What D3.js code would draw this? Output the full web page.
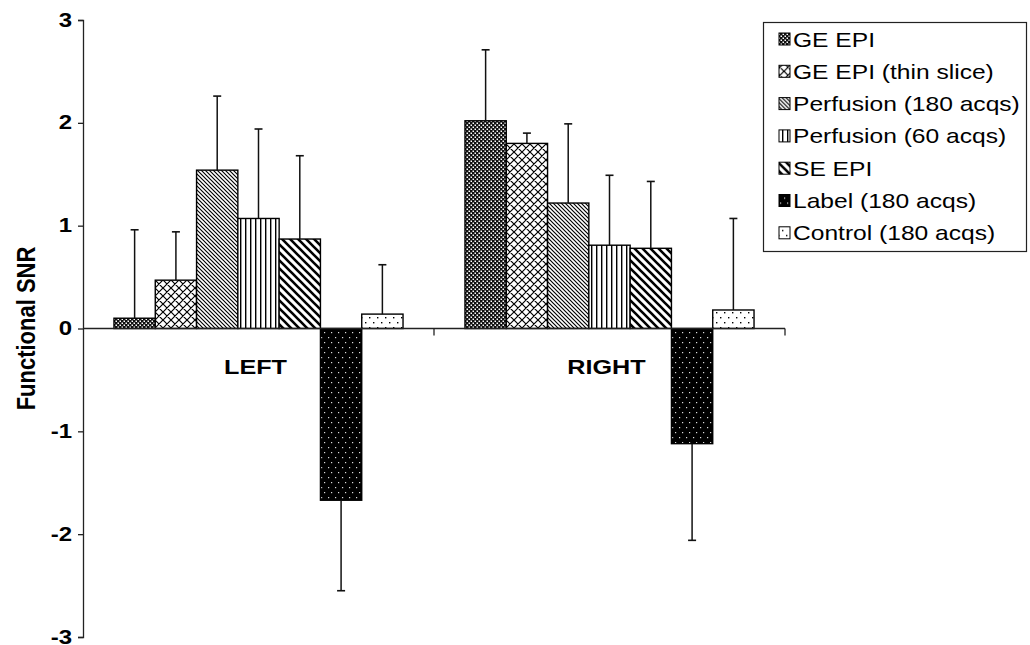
<!DOCTYPE html>
<html>
<head>
<meta charset="utf-8">
<script src="https://cdn.jsdelivr.net/npm/d3@7/dist/d3.min.js"></script>
<style>
  html, body { margin: 0; padding: 0; background: #fff; }
  text { font-family: "Liberation Sans", Arial, sans-serif; fill: #000; }
</style>
</head>
<body>
<svg id="chart" width="1030" height="645"></svg>
<script>
const categories = ["LEFT", "RIGHT"];
const series = ["GE EPI", "GE EPI (thin slice)", "Perfusion (180 acqs)", "Perfusion (60 acqs)", "SE EPI", "Label (180 acqs)", "Control (180 acqs)"];
const leftValues  = [0.10, 0.47, 1.54, 1.07, 0.87, -1.67, 0.14];
const leftErrors  = [0.86, 0.47, 0.72, 0.87, 0.81, 0.88, 0.48];
const rightValues = [2.02, 1.80, 1.22, 0.81, 0.78, -1.12, 0.18];
const rightErrors = [0.69, 0.10, 0.77, 0.68, 0.65, 0.94, 0.89];
const yTicks = [-3, -2, -1, 0, 1, 2, 3];
const patternIds = ["pGE", "pThin", "pPerf180", "pPerf60", "pSE", "pLabel", "pControl"];

const table = [];
categories.forEach((c, ci) => {
  const vals = ci === 0 ? leftValues : rightValues;
  const errs = ci === 0 ? leftErrors : rightErrors;
  series.forEach((s, si) => table.push({ cat: c, series: s, si, value: vals[si], err: errs[si] }));
});

const SX = 1.2; // horizontal stretch of the original figure's lettering
const svg = d3.select("#chart");

// ---- patterns ----
const defs = svg.append("defs");
function pat(id, w, h) {
  return defs.append("pattern").attr("id", id).attr("patternUnits", "userSpaceOnUse")
    .attr("width", w).attr("height", h);
}
// GE EPI: dense dark check
let p = pat("pGE", 4, 4);
p.append("rect").attr("width", 4).attr("height", 4).attr("fill", "#111");
p.append("rect").attr("x", 0.5).attr("y", 0.5).attr("width", 1.5).attr("height", 1.5).attr("fill", "#fff");
p.append("rect").attr("x", 2.5).attr("y", 2.5).attr("width", 1.5).attr("height", 1.5).attr("fill", "#fff");
// thin slice: diagonal crosshatch
p = pat("pThin", 8, 8);
p.append("rect").attr("width", 8).attr("height", 8).attr("fill", "#fff");
p.append("path").attr("d", "M0,0L8,8M8,0L0,8M-1,7L1,9M7,-1L9,1M-1,1L1,-1M7,9L9,7").attr("stroke", "#000").attr("stroke-width", 1.2);
// perfusion 180: fine "\" lines
p = pat("pPerf180", 4, 4);
p.append("rect").attr("width", 4).attr("height", 4).attr("fill", "#fff");
p.append("path").attr("d", "M0,0L4,4M-1,3L1,5M3,-1L5,1").attr("stroke", "#000").attr("stroke-width", 1.15);
// perfusion 60: vertical lines
p = pat("pPerf60", 5, 5);
p.append("rect").attr("width", 5).attr("height", 5).attr("fill", "#fff");
p.append("rect").attr("x", 2).attr("width", 1.4).attr("height", 5).attr("fill", "#000");
// SE EPI: thick "\" lines
p = pat("pSE", 8, 8);
p.append("rect").attr("width", 8).attr("height", 8).attr("fill", "#fff");
p.append("path").attr("d", "M0,0L8,8M-2,6L2,10M6,-2L10,2").attr("stroke", "#000").attr("stroke-width", 2.6);
// Label: black with white dots
p = pat("pLabel", 7, 10);
p.append("rect").attr("width", 7).attr("height", 10).attr("fill", "#000");
p.append("rect").attr("x", 3).attr("y", 2).attr("width", 1.2).attr("height", 1.2).attr("fill", "#ddd");
p.append("rect").attr("x", 0).attr("y", 7).attr("width", 1.2).attr("height", 1.2).attr("fill", "#ddd");
// Control: white with black dots
p = pat("pControl", 8, 10);
p.append("rect").attr("width", 8).attr("height", 10).attr("fill", "#fff");
p.append("rect").attr("x", 2).attr("y", 2).attr("width", 1.4).attr("height", 1.4).attr("fill", "#000");
p.append("rect").attr("x", 6).attr("y", 7).attr("width", 1.4).attr("height", 1.4).attr("fill", "#000");

// ---- scales ----
const x0 = d3.scaleBand().domain(categories).range([83, 785]).paddingInner(0).paddingOuter(0);
const x1 = d3.scaleBand().domain(series).range([0, x0.bandwidth()]).paddingInner(0).paddingOuter(0.75);
const y = d3.scaleLinear().domain([-3, 3]).range([637, 20]);

// ---- y axis ----
const yAxis = svg.append("g").attr("transform", "translate(83,0)")
  .call(d3.axisLeft(y).tickValues(yTicks).tickSize(5).tickPadding(10).tickFormat(d => String(d)));
yAxis.attr("font-size", null).attr("font-family", null);
yAxis.select(".domain").attr("stroke", "#222").attr("stroke-width", 1.3);
yAxis.selectAll(".tick line").attr("stroke", "#222").attr("stroke-width", 1.3);
yAxis.selectAll(".tick text")
  .style("font-family", "'Liberation Sans', Arial, sans-serif")
  .style("font-size", "20px").style("font-weight", "bold").attr("fill", "#000")
  .attr("dy", "0.3em")
  .attr("x", -11 / SX).attr("transform", `scale(${SX},1)`);

// y title
svg.append("text")
  .attr("transform", `translate(35,${y(0)}) rotate(-90) scale(1,${SX})`)
  .attr("text-anchor", "middle").attr("font-size", 22).attr("font-weight", "bold")
  .text("Functional SNR");

// ---- bars ----
const groups = svg.append("g").selectAll("g").data(categories).join("g")
  .attr("transform", d => `translate(${x0(d)},0)`);

groups.selectAll("rect").data(c => table.filter(t => t.cat === c)).join("rect")
  .attr("x", d => x1(d.series))
  .attr("width", x1.bandwidth())
  .attr("y", d => y(Math.max(0, d.value)))
  .attr("height", d => Math.abs(y(d.value) - y(0)))
  .attr("fill", d => `url(#${patternIds[d.si]})`)
  .attr("stroke", "#000").attr("stroke-width", 1.4);

// error bars (one-sided)
const eb = groups.selectAll("g.err").data(c => table.filter(t => t.cat === c)).join("g").attr("class", "err");
eb.append("line")
  .attr("x1", d => x1(d.series) + x1.bandwidth() / 2)
  .attr("x2", d => x1(d.series) + x1.bandwidth() / 2)
  .attr("y1", d => y(d.value))
  .attr("y2", d => y(d.value + Math.sign(d.value) * d.err))
  .attr("stroke", "#111").attr("stroke-width", 1.5);
eb.append("line")
  .attr("x1", d => x1(d.series) + x1.bandwidth() / 2 - 4)
  .attr("x2", d => x1(d.series) + x1.bandwidth() / 2 + 4)
  .attr("y1", d => y(d.value + Math.sign(d.value) * d.err))
  .attr("y2", d => y(d.value + Math.sign(d.value) * d.err))
  .attr("stroke", "#111").attr("stroke-width", 1.6);

// ---- x axis at zero ----
const xAxis = svg.append("g");
xAxis.append("line").attr("x1", x0.range()[0]).attr("x2", x0.range()[1])
  .attr("y1", y(0)).attr("y2", y(0)).attr("stroke", "#222").attr("stroke-width", 1.3);
xAxis.selectAll("line.tk").data(categories).join("line").attr("class", "tk")
  .attr("x1", d => x0(d) + x0.bandwidth()).attr("x2", d => x0(d) + x0.bandwidth())
  .attr("y1", y(0)).attr("y2", y(0) + 7).attr("stroke", "#222").attr("stroke-width", 1.3);
xAxis.selectAll("text").data(categories).join("text")
  .attr("transform", d => `translate(${x0(d) + x0.bandwidth() / 2 - 3},${y(0) + 45}) scale(${SX},1)`)
  .attr("text-anchor", "middle").attr("font-size", 21).attr("font-weight", "bold")
  .text(d => d);

// ---- legend ----
const lg = svg.append("g");
lg.append("rect").attr("x", 763.5).attr("y", 22.5).attr("width", 263).attr("height", 229)
  .attr("fill", "#fff").attr("stroke", "#222").attr("stroke-width", 1.2);
const rows = lg.selectAll("g.row").data(series).join("g").attr("class", "row")
  .attr("transform", (d, i) => `translate(0,${39 + i * 32.3})`);
rows.append("rect").attr("x", 779).attr("y", -6).attr("width", 11).attr("height", 12)
  .attr("fill", (d, i) => `url(#${patternIds[i]})`).attr("stroke", "#000").attr("stroke-width", 1);
rows.append("text").attr("transform", `translate(793,7.5) scale(${SX},1)`)
  .attr("font-size", 20.5).text(d => d);
</script>
</body>
</html>
